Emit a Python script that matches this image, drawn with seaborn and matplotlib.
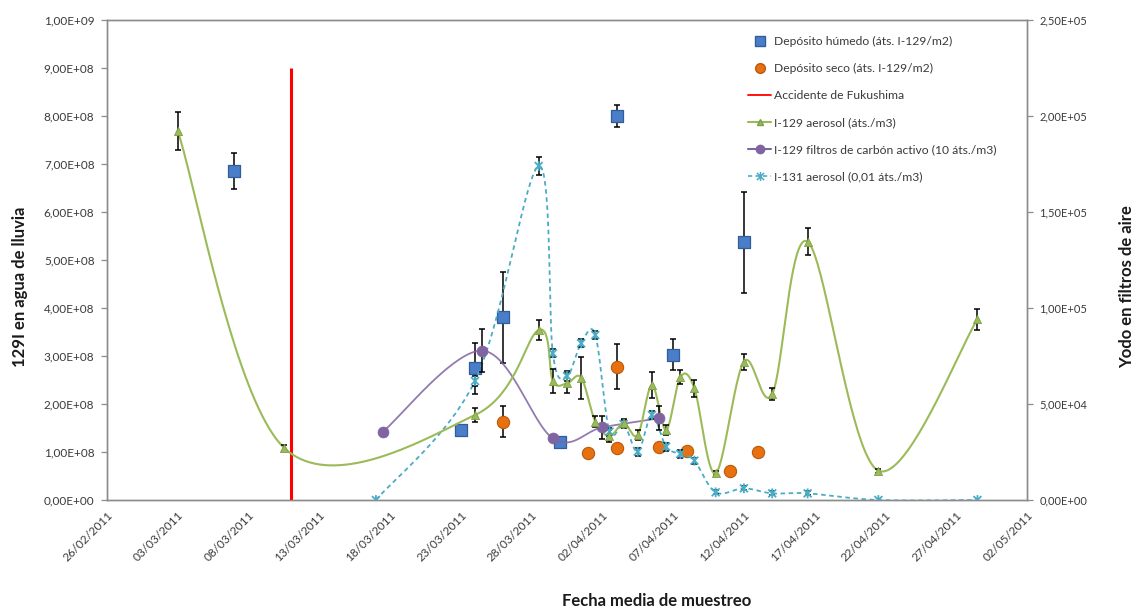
import numpy as np
import pandas as pd
import matplotlib
matplotlib.use("Agg")
import matplotlib.pyplot as plt
import matplotlib.dates as mdates
from matplotlib.lines import Line2D
from matplotlib.path import Path
from matplotlib.ticker import FuncFormatter
import seaborn as sns

# ---- Depósito húmedo (eje izquierdo, áts. I-129/m2) ----
humedo_fecha = ["2011-03-07", "2011-03-23", "2011-03-24", "2011-03-26",
                "2011-03-30", "2011-04-03", "2011-04-07", "2011-04-12"]
humedo_valor = [6.85e8, 1.46e8, 2.74e8, 3.81e8, 1.20e8, 8.00e8, 3.03e8, 5.37e8]
humedo_error = [3.7e7, 0, 5.3e7, 9.5e7, 0, 2.3e7, 3.2e7, 1.05e8]

# ---- Depósito seco (eje izquierdo, áts. I-129/m2) ----
seco_fecha = ["2011-03-26", "2011-04-01", "2011-04-03", "2011-04-03",
              "2011-04-06", "2011-04-08", "2011-04-11", "2011-04-13"]
seco_valor = [1.63e8, 0.97e8, 2.78e8, 1.08e8, 1.10e8, 1.02e8, 0.61e8, 0.99e8]
seco_error = [3.2e7, 0, 4.7e7, 0, 0, 0, 0, 0]

# ---- Accidente de Fukushima ----
fukushima_fecha = "2011-03-11"
fukushima_altura = 9.0e8

# ---- I-129 aerosol (eje derecho, áts./m3) ----
aerosol129_fecha = ["2011-03-03 00:00", "2011-03-10 12:00", "2011-03-24 00:00",
                    "2011-03-28 12:00", "2011-03-29 12:00", "2011-03-30 12:00",
                    "2011-03-31 12:00", "2011-04-01 12:00", "2011-04-02 12:00",
                    "2011-04-03 12:00", "2011-04-04 12:00", "2011-04-05 12:00",
                    "2011-04-06 12:00", "2011-04-07 12:00", "2011-04-08 12:00",
                    "2011-04-10 00:00", "2011-04-12 00:00", "2011-04-14 00:00",
                    "2011-04-16 12:00", "2011-04-21 12:00", "2011-04-28 12:00"]
aerosol129_valor = [192200, 27240, 44270, 88540, 61980, 60760, 63720, 40800,
                    33330, 39930, 33850, 59900, 36460, 63900, 58160, 13890,
                    72050, 55210, 134550, 15280, 94100]
aerosol129_error = [9900, 1600, 3600, 5200, 6500, 5200, 11000, 3000, 3000,
                    2000, 2600, 6700, 2600, 3600, 4300, 1000, 4200, 3100,
                    6900, 1000, 5500]

# ---- I-129 filtros de carbón activo (10 áts./m3) ----
carbon_fecha = ["2011-03-17 12:00", "2011-03-24 12:00", "2011-03-29 12:00",
                "2011-04-02 00:00", "2011-04-06 00:00"]
carbon_valor = [35590, 77780, 32120, 37850, 42540]
carbon_error = [0, 11300, 0, 5900, 6250]

# ---- I-131 aerosol (0,01 áts./m3) ----
aerosol131_fecha = ["2011-03-17 00:00", "2011-03-24 00:00", "2011-03-28 12:00",
                    "2011-03-29 12:00", "2011-03-30 12:00", "2011-03-31 12:00",
                    "2011-04-01 12:00", "2011-04-02 12:00", "2011-04-03 12:00",
                    "2011-04-04 12:00", "2011-04-05 12:00", "2011-04-06 12:00",
                    "2011-04-07 12:00", "2011-04-08 12:00", "2011-04-10 00:00",
                    "2011-04-12 00:00", "2011-04-14 00:00", "2011-04-16 12:00",
                    "2011-04-21 12:00", "2011-04-28 12:00"]
aerosol131_valor = [0, 61980, 173960, 76390, 64580, 81600, 85940, 35590,
                    39580, 25170, 44270, 27780, 23960, 20490, 4000, 6080,
                    3470, 3470, 0, 0]
aerosol131_error = [0, 2500, 4600, 2000, 2500, 2000, 2000, 2000, 2000, 2000,
                    2000, 2000, 2000, 1500, 1000, 1000, 1000, 1000, 0, 0]

# ---- Ejes ----
fecha_inicio = "2011-02-26"
fecha_fin = "2011-05-02"
paso_dias = 5
izq_max = 1.0e9
izq_paso = 1.0e8
der_max = 2.5e5
der_paso = 5.0e4

AZUL, AZUL_BORDE = "#4A7EC8", "#2F5E9A"
NARANJA, NARANJA_BORDE = "#E8700E", "#B85A0C"
ROJO = "#FF0000"
VERDE = "#9BBB59"
MORADO = "#8064A2"
CIAN = "#4BACC6"
GRIS = "#8C8C8C"
TEXTO = "#3A3A3A"

sns.set_theme(style="white")
plt.rcParams["font.family"] = ["Lato", "DejaVu Sans"]


def suavizar(fechas, valores, n=40):
    """Curva suavizada tipo Bezier (Catmull-Rom) que pasa por los puntos."""
    x = mdates.date2num(pd.to_datetime(fechas))
    y = np.asarray(valores, float)
    qx = np.concatenate([[x[0]], x, [x[-1]]])
    qy = np.concatenate([[y[0]], y, [y[-1]]])
    t = np.linspace(0, 1, n)[:, None]
    out = []
    for i in range(len(x) - 1):
        p0 = np.array([x[i], y[i]])
        p3 = np.array([x[i + 1], y[i + 1]])
        c1 = p0 + (np.array([qx[i + 2], qy[i + 2]]) - np.array([qx[i], qy[i]])) / 6
        c2 = p3 - (np.array([qx[i + 3], qy[i + 3]]) - np.array([qx[i + 1], qy[i + 1]])) / 6
        seg = ((1 - t) ** 3) * p0 + 3 * ((1 - t) ** 2) * t * c1 + 3 * (1 - t) * t ** 2 * c2 + t ** 3 * p3
        out.append(seg)
    pts = np.vstack(out)
    return mdates.num2date(pts[:, 0]), pts[:, 1]


def barras(ax, fechas, valores, errores, z=2):
    f = pd.to_datetime(fechas)
    v = np.asarray(valores, float)
    e = np.asarray(errores, float)
    m = e > 0
    if m.any():
        ax.errorbar(f[m], v[m], yerr=e[m], fmt="none", ecolor="black",
                    elinewidth=1.1, capsize=2.2, capthick=1.1, zorder=z)


asterisco = Path([(-1, -1), (1, 1), (-1, 1), (1, -1), (0, -1.25), (0, 1.25)],
                 [Path.MOVETO, Path.LINETO] * 3)

fig = plt.figure(figsize=(11.37, 6.12), dpi=100)
fig.patch.set_facecolor("white")
ax = fig.add_axes([107 / 1137, 112 / 612, 920 / 1137, 480 / 612])
ax2 = ax.twinx()

# --- Eje izquierdo: depósitos y línea del accidente ---
ax.vlines(pd.to_datetime(fukushima_fecha), 0, fukushima_altura, color=ROJO,
          linewidth=2.2, zorder=3)
barras(ax, humedo_fecha, humedo_valor, humedo_error)
barras(ax, seco_fecha, seco_valor, seco_error)
sns.scatterplot(x=pd.to_datetime(humedo_fecha), y=humedo_valor, ax=ax,
                marker="s", s=72, color=AZUL, edgecolor=AZUL_BORDE,
                linewidth=0.9, zorder=4)
sns.scatterplot(x=pd.to_datetime(seco_fecha), y=seco_valor, ax=ax,
                marker="o", s=78, color=NARANJA, edgecolor=NARANJA_BORDE,
                linewidth=0.8, zorder=4)

# --- Eje derecho: filtros de aire ---
xs, ys = suavizar(aerosol131_fecha, aerosol131_valor)
ax2.plot(xs, ys, color=CIAN, linewidth=1.3, linestyle=(0, (2.5, 2)), zorder=2)
xs, ys = suavizar(carbon_fecha, carbon_valor)
ax2.plot(xs, ys, color=MORADO, linewidth=1.3, alpha=0.85, zorder=2)
xs, ys = suavizar(aerosol129_fecha, aerosol129_valor)
ax2.plot(xs, ys, color=VERDE, linewidth=1.5, zorder=2)

barras(ax2, aerosol131_fecha, aerosol131_valor, aerosol131_error, z=3)
barras(ax2, carbon_fecha, carbon_valor, carbon_error, z=3)
barras(ax2, aerosol129_fecha, aerosol129_valor, aerosol129_error, z=3)

sns.scatterplot(x=pd.to_datetime(aerosol131_fecha), y=aerosol131_valor, ax=ax2,
                marker=asterisco, s=50, facecolor="none", edgecolor=CIAN,
                linewidth=1.3, zorder=4)
sns.scatterplot(x=pd.to_datetime(carbon_fecha), y=carbon_valor, ax=ax2,
                marker="o", s=62, color=MORADO, edgecolor=MORADO,
                linewidth=0.5, zorder=4)
sns.scatterplot(x=pd.to_datetime(aerosol129_fecha), y=aerosol129_valor, ax=ax2,
                marker="^", s=34, color=VERDE, edgecolor="#7F9E45",
                linewidth=0.6, zorder=5)

# --- Escalas y marcas ---
inicio, fin = pd.to_datetime(fecha_inicio), pd.to_datetime(fecha_fin)
ax.set_xlim(inicio, fin)
ax.set_xticks(pd.date_range(inicio, fin, freq=f"{paso_dias}D"))
ax.xaxis.set_major_formatter(mdates.DateFormatter("%d/%m/%Y"))
ax.set_ylim(0, izq_max)
ax.set_yticks(np.arange(0, izq_max + izq_paso / 2, izq_paso))
ax2.set_ylim(0, der_max)
ax2.set_yticks(np.arange(0, der_max + der_paso / 2, der_paso))

cientifico = FuncFormatter(lambda v, p: f"{v:.2E}".replace(".", ","))
ax.yaxis.set_major_formatter(cientifico)
ax2.yaxis.set_major_formatter(cientifico)

for a in (ax, ax2):
    for s in a.spines.values():
        s.set_color(GRIS)
        s.set_linewidth(1.0)
    a.tick_params(axis="both", which="major", length=4, width=0.9, color=GRIS,
                  labelsize=8.5, labelcolor=TEXTO, direction="out")
    a.set_xlabel("")
    a.set_ylabel("")
ax.tick_params(axis="y", pad=5)
ax2.tick_params(axis="y", pad=5, labelsize=8)
ax.tick_params(axis="x", pad=3, labelsize=8.5)
for lab in ax.get_xticklabels():
    lab.set_rotation(45)
    lab.set_ha("right")
    lab.set_rotation_mode("anchor")

# --- Títulos de ejes ---
fig.text(20 / 1137, 1 - 287 / 612, "129I en agua de lluvia", rotation=90,
         ha="center", va="center", fontsize=12, fontweight="bold", color="#1A1A1A")
fig.text(1127 / 1137, 1 - 287 / 612, "Yodo en filtros de aire", rotation=90,
         ha="center", va="center", fontsize=12, fontweight="bold", color="#1A1A1A")
fig.text(657 / 1137, 1 - 601 / 612, "Fecha media de muestreo",
         ha="center", va="center", fontsize=12, fontweight="bold", color="#1A1A1A")

# --- Leyenda ---
manejadores = [
    Line2D([], [], linestyle="none", marker="s", markersize=6.5,
           markerfacecolor=AZUL, markeredgecolor=AZUL_BORDE),
    Line2D([], [], linestyle="none", marker="o", markersize=7,
           markerfacecolor=NARANJA, markeredgecolor=NARANJA_BORDE),
    Line2D([], [], color=ROJO, linewidth=1.3),
    Line2D([], [], color=VERDE, linewidth=1.5, marker="^", markersize=5,
           markerfacecolor=VERDE, markeredgecolor="#7F9E45"),
    Line2D([], [], color=MORADO, linewidth=1.5, marker="o", markersize=6,
           markerfacecolor=MORADO),
    Line2D([], [], color=CIAN, linewidth=1.2, linestyle=(0, (2.5, 2)),
           marker=asterisco, markersize=6.5, markeredgewidth=1.1),
]
etiquetas = ["Depósito húmedo (áts. I-129/m2)", "Depósito seco (áts. I-129/m2)",
             "Accidente de Fukushima", "I-129 aerosol (áts./m3)",
             "I-129 filtros de carbón activo (10 áts./m3)",
             "I-131 aerosol (0,01 áts./m3)"]
leg = ax2.legend(manejadores, etiquetas, loc="upper left",
                 bbox_to_anchor=(742 / 1137, 1 - 30 / 612),
                 bbox_transform=fig.transFigure, frameon=False, fontsize=8.7,
                 labelspacing=1.32, handlelength=1.9, handletextpad=0.25,
                 borderpad=0)
for t in leg.get_texts():
    t.set_color(TEXTO)

fig.savefig("out.png", dpi=100, facecolor="white")
